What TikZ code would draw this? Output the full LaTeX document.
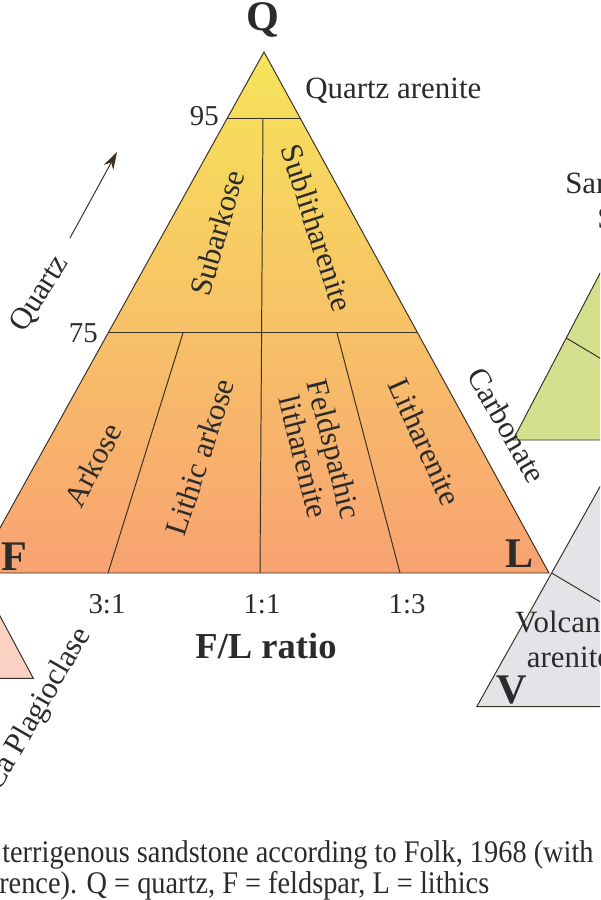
\documentclass[tikz,border=0pt]{standalone}
\usepackage{fontspec}
\setmainfont{Liberation Serif}
\newfontfamily\capfont{Liberation Serif}[FakeStretch=0.9]
\usepackage{xcolor}
\usetikzlibrary{arrows.meta, calc}

\definecolor{qtop}{HTML}{F6E45A}
\definecolor{qmid}{HTML}{F6C766}
\definecolor{qbot}{HTML}{F8A272}
\definecolor{edgecol}{HTML}{3A3126}
\definecolor{textcol}{HTML}{2B2B2B}
\definecolor{carbgreen}{HTML}{D5E08E}
\definecolor{volcgray}{HTML}{E3E4E7}
\definecolor{plagpink}{HTML}{FAD1C2}

\begin{document}
\begin{tikzpicture}[
                x=0.025cm, y=-0.025cm,
                edge/.style={draw=edgecol, line width=0.7pt},
                field/.style={text=textcol, inner sep=0pt, font=\fontsize{22}{22.5}\selectfont},
                ratio/.style={text=textcol, inner sep=0pt, font=\fontsize{20.5}{24}\selectfont},
                apex/.style={text=textcol, inner sep=0pt, font=\bfseries\fontsize{30}{32}\selectfont},
                caption/.style={text=textcol, inner sep=0pt, anchor=base west, font=\capfont\fontsize{22.4}{24}\selectfont}
            ]
                \useasboundingbox (0,0) rectangle (600,900);
                \clip (0,0) rectangle (600,900);

                % Corners
                \coordinate (Q) at (264,52);
                \coordinate (F) at (-25,573);
                \coordinate (L) at (549,573);
                \coordinate (q95l) at ($(Q)!0.1267!(F)$);
                \coordinate (q95r) at ($(Q)!0.1267!(L)$);
                \coordinate (q75l) at ($(Q)!0.5393!(F)$);
                \coordinate (q75r) at ($(Q)!0.5393!(L)$);
                \coordinate (c95) at (263,118);
                \coordinate (c0) at (260,573);
                \coordinate (m31) at (183,333);
                \coordinate (b31) at (108,573);
                \coordinate (m13) at (337,333);
                \coordinate (b13) at (400,573);

                % Neighbour triangles
                \coordinate (C1) at (513,440);
                \coordinate (C2) at (620,235);
                \coordinate (C3) at (720,440);
                \coordinate (c1) at ($(C1)!0.4976!(C2)$);
                \coordinate (c2) at (640,382);
                \coordinate (V1) at (476.7,706.7);
                \coordinate (V2) at (659.8,380);
                \coordinate (V3) at (850,706.7);
                \coordinate (v1) at ($(V1)!0.4092!(V2)$);
                \coordinate (v2) at (640,625.4);
                \coordinate (P1) at (-30,560);
                \coordinate (P2) at (33.3,678.3);
                \coordinate (P3) at (-150,678.3);

                \filldraw[edge, fill=carbgreen] (C1) -- (C2) -- (C3) -- cycle;
                \draw[edge] (c1) -- (c2);
                \filldraw[edge, fill=volcgray] (V1) -- (V2) -- (V3) -- cycle;
                \draw[edge] (v1) -- (v2);
                \filldraw[edge, fill=plagpink] (P1) -- (P2) -- (P3) -- cycle;

                % QFL triangle
                \shade[top color=qtop, middle color=qmid, bottom color=qbot] (Q) -- (F) -- (L) -- cycle;
                \draw[edge] (Q) -- (F) -- (L) -- cycle;
                \draw[edge] (q95l) -- (q95r);
                \draw[edge] (q75l) -- (q75r);
                \draw[edge] (c95) -- (c0);
                \draw[edge] (m31) -- (b31);
                \draw[edge] (m13) -- (b13);

                % Quartz arrow
                \coordinate (qa0) at (70,238);
                \coordinate (qa1) at (117,152);
                \draw[edge, -{Stealth[length=4.4mm, width=2.7mm]}] (qa0) -- (qa1);

                % Labels
                \node[apex, anchor=base] (lq) at (263,31) {Q};
                \node[apex, anchor=base] (lf) at (14,570) {F};
                \node[apex, anchor=base] (ll) at (520,567) {L};
                \node[apex, anchor=base] (lv) at (512,703) {V};
                \node[ratio, anchor=base east] (n95) at (219,125) {95};
                \node[ratio, anchor=base east] (n75) at (98,342) {75};
                \node[ratio, anchor=base] (r31) at (107,613) {3:1};
                \node[ratio, anchor=base] (r11) at (262,613) {1:1};
                \node[ratio, anchor=base] (r13) at (407,613) {1:3};
                \node[text=textcol, inner sep=0pt, anchor=base, font=\bfseries\fontsize{26}{28}\selectfont] (flr) at (266,658) {F/L ratio};
                \node[field, anchor=base west] (qar) at (305,98) {Quartz arenite};
                \node[field, rotate=74] (sark) at (217,233) {Subarkose};
                \node[field, rotate=-72] (slit) at (317,228) {Sublitharenite};
                \node[field, rotate=62] (ark) at (93,465) {Arkose};
                \node[field, rotate=72] (lark) at (200,457) {Lithic arkose};
                \node[field, rotate=-76, align=center] (flit) at (319,453) {Feldspathic\\litharenite};
                \node[field, rotate=-66] (lit) at (425,442) {Litharenite};
                \node[field, rotate=58] (lquartz) at (40,294) {Quartz};
                \node[field, rotate=-60] (lcarb) at (507,425) {Carbonate};
                \node[field, rotate=60, anchor=base east] (lplag) at (91,634) {Ca Plagioclase};
                \node[field, anchor=base] (lvolc) at (569,632) {Volcanic};
                \node[field, anchor=base] (laren) at (569,667) {arenite};
                \node[field, anchor=base west] (lsand) at (565,193) {Sand};
                \node[field, anchor=base west] (ls) at (597,228) {S};
                \node[caption] (cap1) at (2,862) {terrigenous sandstone according to Folk, 1968 (with};
                \node[caption] (cap2) at (-1,893) {rence). Q = quartz, F = feldspar, L = lithics};
            \end{tikzpicture}
\end{document}
